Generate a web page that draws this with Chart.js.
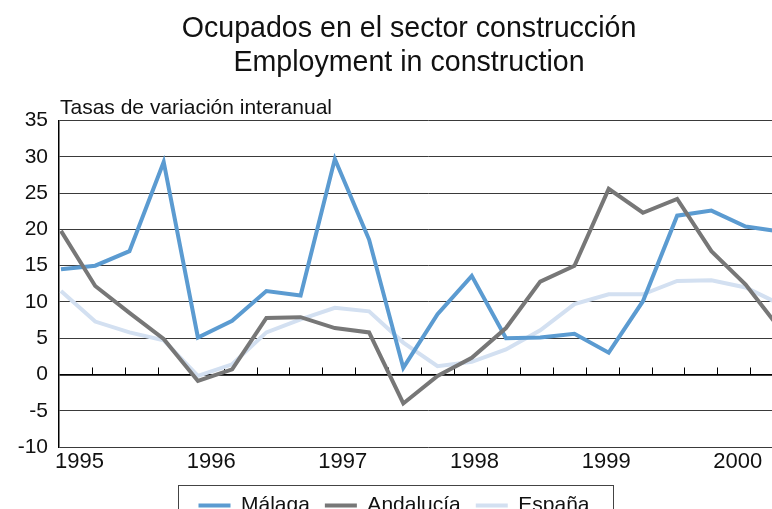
<!DOCTYPE html>
<html>
<head>
<meta charset="utf-8">
<script src="https://cdn.jsdelivr.net/npm/chart.js@4/dist/chart.umd.min.js"></script>
<style>
  html, body { margin: 0; padding: 0; background: #fff; overflow: hidden; }
  #wrap { width: 800px; height: 526px; }
</style>
</head>
<body>
<div id="wrap"><canvas id="chart"></canvas></div>
<script>
// trimestres 1995-I .. 2000-II
const quarters = [
    '1995-I', '1995-II', '1995-III', '1995-IV',
    '1996-I', '1996-II', '1996-III', '1996-IV',
    '1997-I', '1997-II', '1997-III', '1997-IV',
    '1998-I', '1998-II', '1998-III', '1998-IV',
    '1999-I', '1999-II', '1999-III', '1999-IV',
    '2000-I', '2000-II',
];
const yearLabels = ['1995', '1996', '1997', '1998', '1999', '2000'];

const malaga = [14.5, 15.0, 17.0, 29.3, 5.1, 7.4, 11.5, 10.9, 29.7, 18.6, 0.9, 8.3,
                13.6, 5.0, 5.1, 5.6, 3.0, 10.1, 21.9, 22.6, 20.4, 19.7];
const andalucia = [19.8, 12.2, 8.5, 4.9, -0.9, 0.7, 7.8, 7.9, 6.4, 5.8, -4.0, -0.2,
                   2.3, 6.4, 12.8, 15.0, 25.6, 22.3, 24.2, 17.0, 12.4, 6.3];
const espana = [11.5, 7.3, 5.8, 4.7, -0.2, 1.4, 5.8, 7.6, 9.2, 8.7, 4.4, 1.15,
                1.75, 3.45, 6.1, 9.7, 11.05, 11.05, 12.9, 13.0, 12.0, 9.7];

const titleLines = ['Ocupados en el sector construcción', 'Employment in construction'];
const unitLabel = 'Tasas de variación interanual';
const Y_MIN = -10, Y_MAX = 35, Y_STEP = 5;

const FONT = '"Liberation Sans", Arial, Helvetica, sans-serif';
const COLORS = { malaga: '#5b9bd1', andalucia: '#777777', espana: '#d3e0f1' };

const toPoints = arr => arr.map((v, i) => ({ x: i, y: v }));

// marcas de trimestre sobre la linea de cero (hacia arriba)
const zeroTicks = {
    id: 'zeroTicks',
    beforeDatasetsDraw(chart) {
        const xt = chart.scales.xt, y = chart.scales.y;
        const y0 = y.getPixelForValue(0);
        const ctx = chart.ctx;
        ctx.save();
        ctx.strokeStyle = '#000';
        ctx.lineWidth = 1;
        xt.ticks.forEach(t => {
            if (!Number.isInteger(t.value) || t.value === 0) return;
            const x = Math.round(xt.getPixelForValue(t.value)) + 0.5;
            ctx.beginPath();
            ctx.moveTo(x, y0);
            ctx.lineTo(x, y0 - 7);
            ctx.stroke();
        });
        ctx.restore();
    },
};

// rotulo de unidades encima del eje Y
const unitText = {
    id: 'unitText',
    afterDraw(chart) {
        const ctx = chart.ctx, a = chart.chartArea;
        ctx.save();
        ctx.font = '21px ' + FONT;
        ctx.fillStyle = '#111';
        ctx.textAlign = 'left';
        ctx.textBaseline = 'alphabetic';
        ctx.fillText(unitLabel, a.left + 1, a.top - 7);
        ctx.restore();
    },
};

// leyenda desplazada y enmarcada
const legendFrame = {
    id: 'legendFrame',
    afterLayout(chart) {
        const lg = chart.legend;
        lg.left -= 15;
        lg.right -= 15;
    },
    afterDraw(chart) {
        const boxes = chart.legend.legendHitBoxes;
        if (!boxes || !boxes.length) return;
        const left = Math.min(...boxes.map(b => b.left));
        const right = Math.max(...boxes.map(b => b.left + b.width));
        const top = Math.min(...boxes.map(b => b.top));
        const ctx = chart.ctx;
        ctx.save();
        ctx.strokeStyle = '#444';
        ctx.lineWidth = 1;
        ctx.strokeRect(Math.round(left - 20) + 0.5, Math.round(top - 10) + 0.5,
                       Math.round(right - left + 44), 60);
        ctx.restore();
    },
};

const line = (label, data, color, order) => ({
    label,
    data: toPoints(data),
    borderColor: color,
    backgroundColor: color,
    borderWidth: 4,
    pointRadius: 0,
    pointHoverRadius: 0,
    tension: 0,
    fill: false,
    order,
});

new Chart(document.getElementById('chart'), {
    type: 'line',
    data: {
        labels: quarters,
        datasets: [
            line('Málaga', malaga, COLORS.malaga, 2),
            line('Andalucía', andalucia, COLORS.andalucia, 1),
            line('España', espana, COLORS.espana, 3),
        ],
    },
    options: {
        responsive: true,
        maintainAspectRatio: false,
        animation: false,
        layout: { padding: { left: 18, right: 0, top: 0, bottom: 0 } },
        plugins: {
            title: {
                display: true,
                text: titleLines,
                color: '#111',
                font: { family: FONT, size: 28.6, weight: 'normal', lineHeight: 1.2 },
                padding: { top: 12, bottom: 40 },
            },
            legend: {
                position: 'bottom',
                labels: {
                    color: '#111',
                    font: { family: FONT, size: 21 },
                    usePointStyle: true,
                    pointStyle: 'line',
                    pointStyleWidth: 32,
                    padding: 15,
                    sort: (a, b) => a.datasetIndex - b.datasetIndex,
                },
            },
            tooltip: { enabled: false },
        },
        scales: {
            x: {
                type: 'linear',
                display: false,
                min: -0.058,
                max: 21.53,
            },
            xt: {
                type: 'linear',
                position: 'bottom',
                min: 0,
                max: 22.45,
                afterFit: s => { s.height = 33; },
                grid: { display: false, drawTicks: false },
                border: { display: false },
                ticks: {
                    stepSize: 1,
                    autoSkip: false,
                    maxRotation: 0,
                    align: 'start',
                    labelOffset: -4,
                    padding: 2,
                    color: '#111',
                    font: { family: FONT, size: 22 },
                    callback: v => (Number.isInteger(v) && v % 4 === 0) ? yearLabels[v / 4] : '',
                },
            },
            y: {
                min: Y_MIN,
                max: Y_MAX,
                afterFit: s => { s.width = 41; },
                grid: {
                    drawTicks: false,
                    color: ctx => ctx.tick.value === 0 ? '#000' : '#3a3a3a',
                    lineWidth: ctx => ctx.tick.value === 0 ? 1.8 : 1,
                },
                border: { color: '#000', width: 1.5 },
                ticks: {
                    stepSize: Y_STEP,
                    padding: 11,
                    color: '#111',
                    font: { family: FONT, size: 21 },
                },
            },
        },
    },
    plugins: [zeroTicks, unitText, legendFrame],
});
</script>
</body>
</html>
